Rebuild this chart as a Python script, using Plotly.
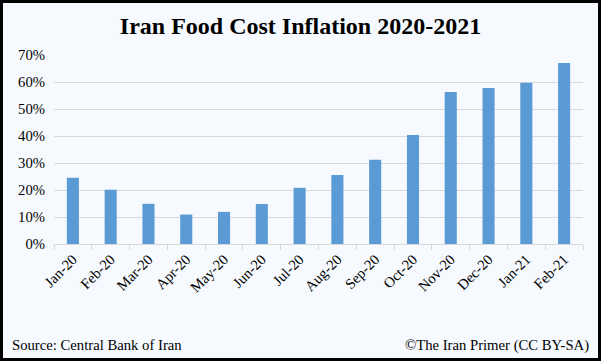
import plotly.graph_objects as go

months = ["Jan-20", "Feb-20", "Mar-20", "Apr-20", "May-20", "Jun-20", "Jul-20",
          "Aug-20", "Sep-20", "Oct-20", "Nov-20", "Dec-20", "Jan-21", "Feb-21"]
inflation = [24.5, 20.1, 14.9, 10.9, 11.9, 14.8, 20.8, 25.6, 31.2, 40.4, 56.3, 57.8, 59.7, 67.0]
y_ticks = [0, 10, 20, 30, 40, 50, 60, 70]
y_tick_labels = [f"{v}%" for v in y_ticks]

W, H = 601, 361
ML, MR, MT, MB = 54, 18, 55, 117
PW, PH = W - ML - MR, H - MT - MB

def px_x(x):
    return (x - ML) / PW

def px_y(y):
    return (H - MB - y) / PH

fig = go.Figure(go.Bar(
    x=months, y=inflation,
    marker=dict(color="#5B9BD5", line=dict(width=0)),
    width=0.32,
))

bg = "#F6FAFE"
serif = "Liberation Serif, Times New Roman, serif"
fig.update_layout(
    width=W, height=H,
    margin=dict(l=ML, r=MR, t=MT, b=MB),
    paper_bgcolor=bg, plot_bgcolor=bg,
    font=dict(family=serif, color="#000000", size=14.7),
    showlegend=False,
    title=dict(text="<b>Iran Food Cost Inflation 2020-2021</b>", x=0.5, xanchor="center",
               y=1 - 26 / H, yanchor="middle",
               font=dict(size=24, family=serif, color="#000000")),
    xaxis=dict(
        tickangle=-45, tickfont=dict(size=14.7, family=serif),
        showgrid=False, showline=True, linecolor="#D9D9D9", linewidth=1,
        ticks="outside", tickson="boundaries", ticklen=5, tickcolor="#D9D9D9",
    ),
    yaxis=dict(
        range=[0, 70], tickvals=y_ticks, ticktext=y_tick_labels,
        tickfont=dict(size=14.7, family=serif),
        showgrid=True, gridcolor="#D9D9D9", gridwidth=1,
        zeroline=True, zerolinecolor="#D9D9D9", zerolinewidth=1,
        showline=False, ticks="", ticklabelstandoff=8,
    ),
    shapes=[dict(type="rect", xref="paper", yref="paper",
                 x0=px_x(1.5), x1=px_x(W - 1.5), y0=px_y(H - 1.5), y1=px_y(1.5),
                 line=dict(color="#000000", width=3), fillcolor="rgba(0,0,0,0)", layer="above")],
    annotations=[
        dict(text="Source: Central Bank of Iran", xref="paper", yref="paper",
             x=px_x(10), y=px_y(345), xanchor="left", yanchor="middle", showarrow=False,
             font=dict(size=14.7, family=serif)),
        dict(text="©The Iran Primer (CC BY-SA)", xref="paper", yref="paper",
             x=px_x(591), y=px_y(345), xanchor="right", yanchor="middle", showarrow=False,
             font=dict(size=14.7, family=serif)),
    ],
)

fig.write_html("out.html", config={"displayModeBar": False},
               post_script="document.body.style.margin='0';document.body.style.padding='0';")
